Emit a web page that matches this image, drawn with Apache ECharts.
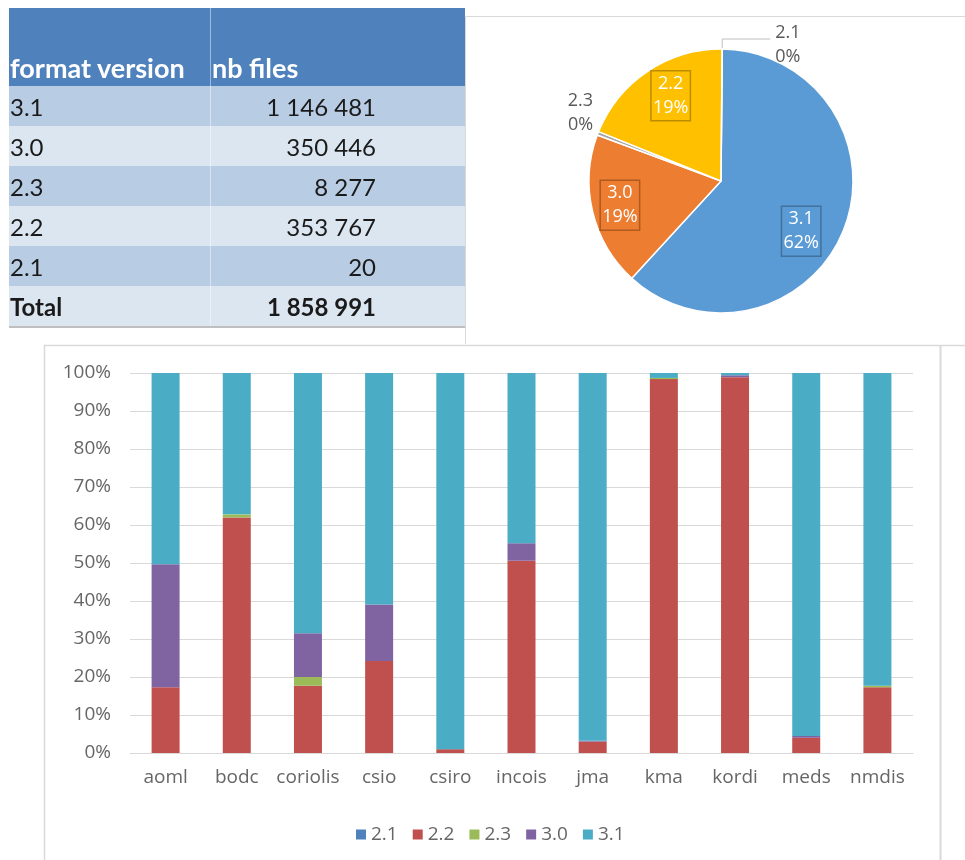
<!DOCTYPE html>
<html>
<head>
<meta charset="utf-8">
<script src="https://cdn.jsdelivr.net/npm/echarts@6/dist/echarts.min.js"></script>
<style>
  body { margin: 0; background: #fff; }
  #wrap { position: relative; width: 965px; height: 860px; }
  #chart { position: absolute; left: 0; top: 0; width: 965px; height: 860px; }
  #tbl {
    position: absolute; left: 9px; top: 8px; width: 456px;
    border-collapse: collapse; font-family: Lato, "Open Sans", sans-serif;
    font-size: 24px; color: #1a1a1a;
  }
  #tbl td { padding: 0 0 0 1px; height: 40px; white-space: nowrap; }
  #tbl td.num { text-align: right; padding-right: 89px; border-left: 1px solid rgba(255,255,255,0.45); }
  #tbl tr.head td { height: 76px; background: #4F81BD; color: #fff; font-weight: bold; font-size: 27px; vertical-align: bottom; padding-bottom: 2px; }
  #tbl tr.head td.num { text-align: left; padding-right: 0; }
  #tbl tr.odd td { background: #B8CCE4; }
  #tbl tr.even td { background: #DCE6F1; }
  #tbl tr.total td { font-weight: bold; border-bottom: 2px solid #BFBFBF; }
</style>
</head>
<body>
<div id="wrap">
  <div id="chart"></div>
  <table id="tbl"></table>
</div>
<script>
// table + pie data
const versions = ["3.1", "3.0", "2.3", "2.2", "2.1"];
const nbFiles = [1146481, 350446, 8277, 353767, 20];
const pieColors = ["#5B9BD5", "#ED7D31", "#A5A5A5", "#FFC000", "#4472C4"];
const pieBoxColors = ["#41719C", "#AE5A21", null, "#BC8C00", null];

// stacked bar data (percent of files per DAC)
const dacs = ["aoml", "bodc", "coriolis", "csio", "csiro", "incois", "jma", "kma", "kordi", "meds", "nmdis"];
const seriesNames = ["2.1", "2.2", "2.3", "3.0", "3.1"];
const v21 = [0, 0, 0, 0, 0, 0, 0, 0, 0, 0, 0];
const v22 = [17.3, 62.0, 17.7, 24.2, 1.0, 50.6, 3.0, 98.4, 98.9, 4.0, 17.3];
const v23 = [0, 0.8, 2.3, 0, 0, 0, 0, 0.3, 0, 0, 0.4];
const v30 = [32.4, 0, 11.5, 14.9, 0, 4.6, 0.2, 0, 0.5, 0.5, 0];
const v31 = [50.3, 37.2, 68.5, 60.9, 99.0, 44.8, 96.8, 1.3, 0.6, 95.5, 82.3];
const barColors = ["#4F81BD", "#C0504D", "#9BBB59", "#8064A2", "#4BACC6"];
const yTicks = [0, 10, 20, 30, 40, 50, 60, 70, 80, 90, 100];

function fmt(n) {
  return String(n).replace(/\B(?=(\d{3})+(?!\d))/g, " ");
}

// build table
const tbl = document.getElementById("tbl");
let html = '<tr class="head"><td style="width:200px">format version</td><td class="num">nb files</td></tr>';
versions.forEach((v, i) => {
  html += `<tr class="${i % 2 === 0 ? "odd" : "even"}"><td>${v}</td><td class="num">${fmt(nbFiles[i])}</td></tr>`;
});
const total = nbFiles.reduce((a, b) => a + b, 0);
html += `<tr class="even total"><td>Total</td><td class="num">${fmt(total)}</td></tr>`;
tbl.innerHTML = html;

const chart = echarts.init(document.getElementById("chart"));

const pieLabelOffsets = [[16, 25], [-34, 8], [2, -20], [-12, -28], [0, 6]];
const pieData = versions.map((v, i) => {
  const boxed = pieBoxColors[i] !== null;
  return {
    name: v,
    value: nbFiles[i],
    itemStyle: { color: pieColors[i] },
    label: boxed
      ? {
          position: "inside",
          offset: pieLabelOffsets[i],
          color: "#fff",
          borderColor: pieBoxColors[i],
          borderWidth: 1.5,
          padding: [2, 2, 0, 2],
        }
      : {
          position: "outside",
          offset: pieLabelOffsets[i],
          color: "#595959",
        },
    labelLine: v === "2.1"
      ? { show: true, length: 10, length2: 48, lineStyle: { color: "#BFBFBF", width: 1 } }
      : { show: false, length: 2, length2: 0 },
  };
});

const barSeries = [v21, v22, v23, v30, v31].map((vals, i) => ({
  name: seriesNames[i],
  type: "bar",
  stack: "total",
  barWidth: 28,
  data: vals,
  itemStyle: { color: barColors[i] },
}));

chart.setOption({
  animation: false,
  textStyle: { fontFamily: "Open Sans" },
  graphic: [
    // pie frame
    { type: "polyline", shape: { points: [[465.5, 344], [465.5, 16.5], [965, 16.5]] }, style: { stroke: "#D9D9D9", fill: null, lineWidth: 1 } },
    // bar chart frame
    { type: "polyline", shape: { points: [[44.5, 870], [44.5, 345.5], [965, 345.5]] }, style: { stroke: "#D9D9D9", fill: null, lineWidth: 1.5 } },
    { type: "line", shape: { x1: 940.5, y1: 345.5, x2: 940.5, y2: 870 }, style: { stroke: "#D9D9D9", lineWidth: 2 } },
  ],
  legend: {
    data: seriesNames,
    left: 351,
    top: 820,
    icon: "rect",
    itemWidth: 10,
    itemHeight: 10,
    itemGap: 15,
    textStyle: { color: "#666", fontSize: 19 },
  },
  grid: { left: 130, right: 52, top: 373, bottom: 107 },
  xAxis: {
    type: "category",
    data: dacs,
    axisLine: { lineStyle: { color: "#D9D9D9" } },
    axisTick: { show: false },
    axisLabel: { color: "#666", fontSize: 19, margin: 15, interval: 0 },
  },
  yAxis: {
    type: "value",
    min: 0,
    max: 100,
    interval: 10,
    axisLine: { show: false },
    axisTick: { show: false },
    splitLine: { lineStyle: { color: "#D9D9D9" } },
    axisLabel: {
      color: "#666",
      fontSize: 19,
      margin: 19,
      formatter: (val) => (yTicks.includes(val) ? val + "%" : ""),
    },
  },
  series: [
    {
      type: "pie",
      center: [721, 181],
      radius: 132,
      startAngle: 89.5,
      clockwise: true,
      avoidLabelOverlap: false,
      itemStyle: { borderColor: "#fff", borderWidth: 1.5 },
      label: {
        fontSize: 18,
        lineHeight: 24,
        formatter: (p) => `${p.name}\n${Math.round(p.percent)}%`,
      },
      data: pieData,
    },
    ...barSeries,
  ],
});
</script>
</body>
</html>
